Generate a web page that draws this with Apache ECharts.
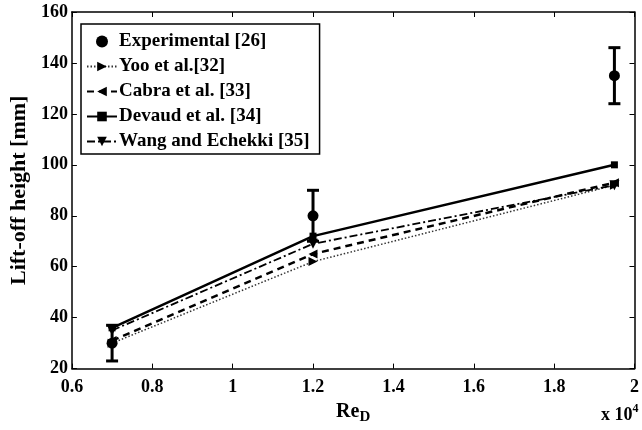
<!DOCTYPE html>
<html style="height: 100%">
    <head>
        <title>Lift-off height</title>
        <meta charset="utf-8">
    </head>
    <body style="height: 100%; margin: 0">
        <div id="container" style="width: 642px; height: 430px"></div>

        <script type="text/javascript" src="https://cdn.jsdelivr.net/npm/echarts@6.0.0/dist/echarts.min.js"></script>
        <script type="text/javascript">
            // Re_D values (x 10^4)
            var reD = [0.7, 1.2, 1.95];
            // experimental points with error bars
            var expValue = [30, 80, 135];
            var expLow = [23, 70, 124];
            var expHigh = [37, 90, 146];
            // models
            var yoo = [30, 62, 92];
            var cabra = [31, 65, 93];
            var devaud = [36, 72, 100];
            var wang = [35, 69, 92];

            var font = 'Liberation Serif';

            function pairs(ys) {
                return reD.map(function (x, i) { return [x, ys[i]]; });
            }

            var dom = document.getElementById("container");
            var myChart = echarts.init(dom);

            var tickStyle = { fontFamily: font, fontWeight: 'bold', fontSize: 18, color: '#000' };

            var option = {
                animation: false,
                backgroundColor: '#fff',
                grid: { left: 69, right: 2, top: 12, bottom: 58 },
                xAxis: [{
                    type: 'value', min: 0.6, max: 2, interval: 0.2,
                    axisLine: { lineStyle: { color: '#000', width: 1.5 } },
                    axisTick: { inside: true, length: 5, lineStyle: { color: '#000' } },
                    axisLabel: Object.assign({ margin: 10 }, tickStyle),
                    splitLine: { show: false },
                    name: 'Re{sub|D}',
                    nameLocation: 'middle',
                    nameGap: 29,
                    nameTextStyle: {
                        fontFamily: font, fontWeight: 'bold', fontSize: 20, color: '#000',
                        rich: { sub: { fontFamily: font, fontWeight: 'bold', fontSize: 15, verticalAlign: 'bottom', padding: [12, 0, 0, 0] } }
                    }
                }, {
                    type: 'value', min: 0.6, max: 2, interval: 0.2, position: 'top',
                    axisLine: { lineStyle: { color: '#000', width: 1.5 } },
                    axisTick: { inside: true, length: 5, lineStyle: { color: '#000' } },
                    axisLabel: { show: false },
                    splitLine: { show: false }
                }],
                yAxis: [{
                    type: 'value', min: 20, max: 160, interval: 20,
                    axisLine: { lineStyle: { color: '#000', width: 1.5 } },
                    axisTick: { inside: true, length: 5, lineStyle: { color: '#000' } },
                    axisLabel: Object.assign({ margin: 4 }, tickStyle),
                    splitLine: { show: false },
                    name: 'Lift-off height [mm]',
                    nameLocation: 'middle',
                    nameGap: 31,
                    nameTextStyle: { fontFamily: font, fontWeight: 'bold', fontSize: 22, color: '#000' }
                }, {
                    type: 'value', min: 20, max: 160, interval: 20, position: 'right',
                    axisLine: { lineStyle: { color: '#000', width: 1.5 } },
                    axisTick: { inside: true, length: 5, lineStyle: { color: '#000' } },
                    axisLabel: { show: false },
                    splitLine: { show: false }
                }],
                legend: {
                    orient: 'vertical',
                    left: 81, top: 24,
                    padding: [8, 10, 3, 5],
                    itemGap: 6,
                    itemWidth: 30, itemHeight: 12,
                    borderColor: '#000', borderWidth: 1.5,
                    backgroundColor: '#fff',
                    textStyle: { fontFamily: font, fontWeight: 'bold', fontSize: 19, color: '#000', padding: [0, 0, 0, -3] },
                    data: ['Experimental [26]', 'Yoo et al.[32]', 'Cabra et al. [33]', 'Devaud et al. [34]', 'Wang and Echekki [35]']
                },
                graphic: [{
                    type: 'text', left: 601, top: 403,
                    style: {
                        text: 'x 10{sup|4}',
                        font: 'bold 18px "Liberation Serif"',
                        fill: '#000',
                        rich: { sup: { font: 'bold 12px "Liberation Serif"', fill: '#000', verticalAlign: 'top', padding: [0, 0, 12, 0] } }
                    }
                }],
                series: [{
                    name: 'errorbar', type: 'custom', z: 3,
                    renderItem: function (params, api) {
                        var x = api.value(0);
                        var lo = api.coord([x, api.value(1)]);
                        var hi = api.coord([x, api.value(2)]);
                        var w = 6;
                        var st = { stroke: '#000', lineWidth: 3 };
                        return { type: 'group', children: [
                            { type: 'line', shape: { x1: lo[0], y1: lo[1], x2: hi[0], y2: hi[1] }, style: st },
                            { type: 'line', shape: { x1: lo[0] - w, y1: lo[1], x2: lo[0] + w, y2: lo[1] }, style: st },
                            { type: 'line', shape: { x1: hi[0] - w, y1: hi[1], x2: hi[0] + w, y2: hi[1] }, style: st }
                        ] };
                    },
                    data: reD.map(function (x, i) { return [x, expLow[i], expHigh[i]]; })
                }, {
                    name: 'Yoo et al.[32]', type: 'line', data: pairs(yoo),
                    symbol: 'triangle', symbolRotate: -90, symbolSize: 9,
                    itemStyle: { color: '#000' },
                    lineStyle: { color: '#333', width: 1.5, type: [1.5, 2] }
                }, {
                    name: 'Cabra et al. [33]', type: 'line', data: pairs(cabra),
                    symbol: 'triangle', symbolRotate: 90, symbolSize: 9,
                    itemStyle: { color: '#000' },
                    lineStyle: { color: '#000', width: 2.5, type: [7, 5] }
                }, {
                    name: 'Devaud et al. [34]', type: 'line', data: pairs(devaud),
                    symbol: 'rect', symbolSize: 7,
                    itemStyle: { color: '#000' },
                    lineStyle: { color: '#000', width: 2.5 }
                }, {
                    name: 'Wang and Echekki [35]', type: 'line', data: pairs(wang),
                    symbol: 'triangle', symbolRotate: 180, symbolSize: 10,
                    itemStyle: { color: '#000' },
                    lineStyle: { color: '#000', width: 1.8, type: [8, 3, 2, 3] }
                }, {
                    name: 'Experimental [26]', type: 'scatter', data: pairs(expValue),
                    symbol: 'circle', symbolSize: 11, z: 4,
                    itemStyle: { color: '#000', opacity: 1 }
                }]
            };

            myChart.setOption(option);
        </script>
    </body>
</html>
